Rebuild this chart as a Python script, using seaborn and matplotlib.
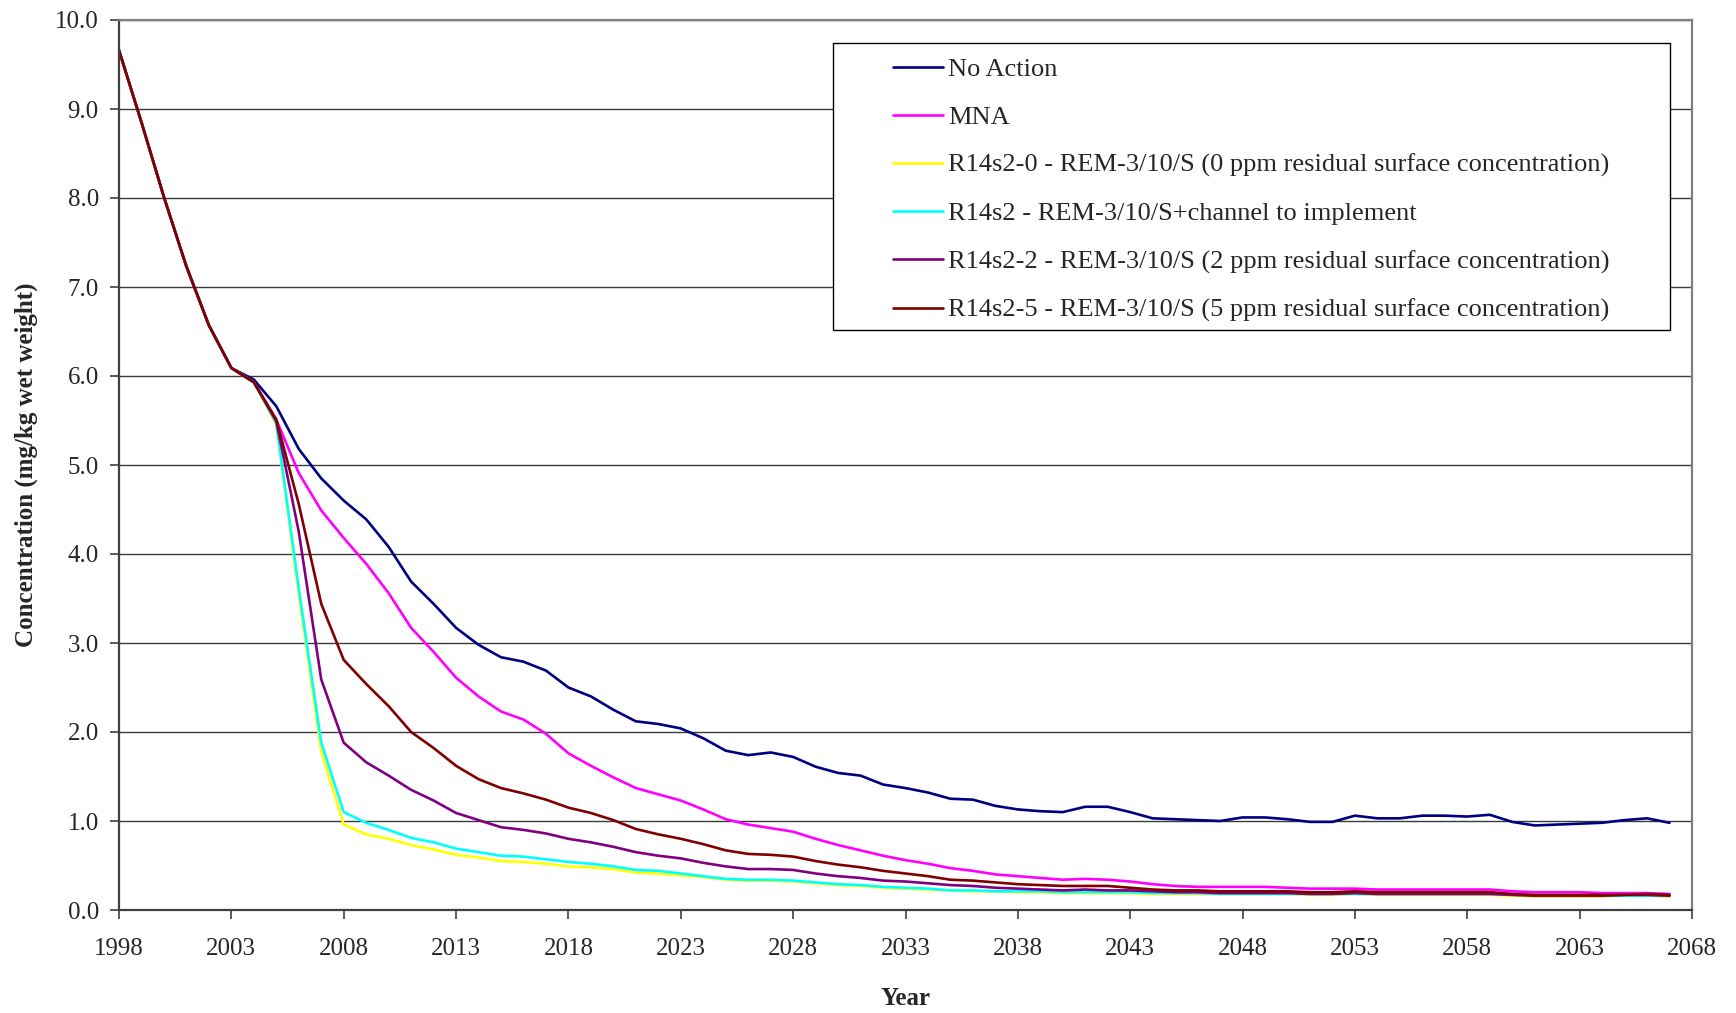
import numpy as np
import pandas as pd
import matplotlib
matplotlib.use("Agg")
import matplotlib.pyplot as plt
import seaborn as sns
from matplotlib.patches import Rectangle

# years 1998..2067, one value per year
years = list(range(1998, 2068))

# shared history before the scenarios split
start = [9.66, 8.85, 8.01, 7.23, 6.57, 6.09]

no_action = start + [
    5.96, 5.66, 5.18, 4.85,
    4.60, 4.39, 4.08, 3.69, 3.44, 3.17, 2.98, 2.84, 2.79, 2.69,
    2.50, 2.40, 2.25, 2.12, 2.09, 2.04, 1.93, 1.79, 1.74, 1.77,
    1.72, 1.61, 1.54, 1.51, 1.41, 1.37, 1.32, 1.25, 1.24, 1.17,
    1.13, 1.11, 1.10, 1.16, 1.16, 1.10, 1.03, 1.02, 1.01, 1.00,
    1.04, 1.04, 1.02, 0.99, 0.99, 1.06, 1.03, 1.03, 1.06, 1.06,
    1.05, 1.07, 0.99, 0.95, 0.96, 0.97, 0.98, 1.01, 1.03, 0.98]

mna = start + [
    5.93, 5.51, 4.91, 4.49,
    4.18, 3.89, 3.56, 3.17, 2.90, 2.61, 2.40, 2.23, 2.14, 1.98,
    1.76, 1.62, 1.49, 1.37, 1.30, 1.23, 1.13, 1.02, 0.96, 0.92,
    0.88, 0.80, 0.73, 0.67, 0.61, 0.56, 0.52, 0.47, 0.44, 0.40,
    0.38, 0.36, 0.34, 0.35, 0.34, 0.32, 0.29, 0.27, 0.26, 0.26,
    0.26, 0.26, 0.25, 0.24, 0.24, 0.24, 0.23, 0.23, 0.23, 0.23,
    0.23, 0.23, 0.21, 0.20, 0.20, 0.20, 0.19, 0.19, 0.19, 0.18]

r0 = start + [
    5.93, 5.45, 3.55, 1.78,
    0.96, 0.85, 0.80, 0.73, 0.68, 0.62, 0.59, 0.55, 0.54, 0.52,
    0.49, 0.48, 0.46, 0.42, 0.41, 0.39, 0.37, 0.34, 0.33, 0.33,
    0.32, 0.30, 0.28, 0.27, 0.25, 0.24, 0.23, 0.22, 0.21, 0.21,
    0.20, 0.20, 0.19, 0.19, 0.19, 0.19, 0.18, 0.18, 0.18, 0.18,
    0.18, 0.18, 0.18, 0.17, 0.17, 0.18, 0.17, 0.17, 0.17, 0.17,
    0.17, 0.17, 0.16, 0.15, 0.15, 0.15, 0.15, 0.16, 0.16, 0.15]

r_channel = start + [
    5.93, 5.47, 3.61, 1.88,
    1.10, 0.98, 0.90, 0.81, 0.76, 0.69, 0.65, 0.61, 0.60, 0.57,
    0.54, 0.52, 0.49, 0.45, 0.44, 0.41, 0.38, 0.35, 0.34, 0.34,
    0.33, 0.31, 0.29, 0.28, 0.26, 0.25, 0.24, 0.22, 0.22, 0.21,
    0.21, 0.21, 0.20, 0.20, 0.20, 0.20, 0.19, 0.19, 0.19, 0.18,
    0.18, 0.18, 0.18, 0.18, 0.18, 0.18, 0.18, 0.18, 0.18, 0.18,
    0.18, 0.18, 0.17, 0.16, 0.16, 0.16, 0.16, 0.16, 0.16, 0.16]

r2 = start + [
    5.93, 5.49, 4.25, 2.59,
    1.88, 1.66, 1.51, 1.35, 1.23, 1.09, 1.01, 0.93, 0.90, 0.86,
    0.80, 0.76, 0.71, 0.65, 0.61, 0.58, 0.53, 0.49, 0.46, 0.46,
    0.45, 0.41, 0.38, 0.36, 0.33, 0.32, 0.30, 0.28, 0.27, 0.25,
    0.24, 0.23, 0.22, 0.23, 0.22, 0.22, 0.21, 0.20, 0.20, 0.19,
    0.19, 0.19, 0.19, 0.18, 0.18, 0.19, 0.18, 0.18, 0.18, 0.18,
    0.18, 0.18, 0.17, 0.16, 0.16, 0.16, 0.16, 0.17, 0.17, 0.16]

r5 = start + [
    5.93, 5.51, 4.56, 3.44,
    2.81, 2.54, 2.29, 2.00, 1.82, 1.62, 1.47, 1.37, 1.31, 1.24,
    1.15, 1.09, 1.01, 0.91, 0.85, 0.80, 0.74, 0.67, 0.63, 0.62,
    0.60, 0.55, 0.51, 0.48, 0.44, 0.41, 0.38, 0.34, 0.33, 0.31,
    0.29, 0.28, 0.27, 0.27, 0.27, 0.25, 0.23, 0.22, 0.22, 0.21,
    0.21, 0.21, 0.21, 0.20, 0.20, 0.21, 0.20, 0.20, 0.20, 0.20,
    0.20, 0.20, 0.18, 0.17, 0.17, 0.17, 0.17, 0.17, 0.18, 0.17]

labels = [
    "No Action",
    "MNA",
    "R14s2-0 - REM-3/10/S (0 ppm residual surface concentration)",
    "R14s2 - REM-3/10/S+channel to implement",
    "R14s2-2 - REM-3/10/S (2 ppm residual surface concentration)",
    "R14s2-5 - REM-3/10/S (5 ppm residual surface concentration)",
]
colors = ["#000080", "#FF00FF", "#FFFF00", "#00FFFF", "#800080", "#800000"]
series = [no_action, mna, r0, r_channel, r2, r5]

df = pd.concat(
    [pd.DataFrame({"Year": years, "Value": vals, "Scenario": lab})
     for lab, vals in zip(labels, series)],
    ignore_index=True)

sns.set_theme(style="white")
plt.rcParams["font.family"] = ["Liberation Serif", "DejaVu Serif"]

fig = plt.figure(figsize=(17.36, 10.13), dpi=100)
ax = fig.add_axes([119 / 1736, 1 - 910 / 1013, 1573 / 1736, 890 / 1013])

sns.lineplot(data=df, x="Year", y="Value", hue="Scenario", hue_order=labels,
             palette=dict(zip(labels, colors)), linewidth=1.9, ax=ax,
             legend=False)

ax.set_xlim(1998, 2068)
ax.set_ylim(0, 10)
ax.set_xticks(range(1998, 2069, 5))
ax.set_yticks(np.arange(0, 10.1, 1.0))
ax.yaxis.set_major_formatter(matplotlib.ticker.FormatStrFormatter("%.1f"))
ax.yaxis.grid(True, color="#3a3a3a", linewidth=1.0)
ax.set_axisbelow(True)
ax.tick_params(axis="both", direction="out", length=6.5, width=1.2,
               color="#404040", labelsize=18, left=True, bottom=True)
ax.tick_params(axis="x", pad=14)
ax.tick_params(axis="y", pad=8)
for side in ["left", "bottom"]:
    ax.spines[side].set_color("#404040")
    ax.spines[side].set_linewidth(1.6)
for side in ["top", "right"]:
    ax.spines[side].set_color("#808080")
    ax.spines[side].set_linewidth(1.6)

ax.set_xlabel("Year", fontsize=18, fontweight="bold", labelpad=19)
ax.set_ylabel("Concentration (mg/kg wet weight)", fontsize=18,
              fontweight="bold", labelpad=12)

# legend inside a plain black box
ax.add_patch(Rectangle((0.454, 0.652), 0.532, 0.322, transform=ax.transAxes,
                       facecolor="white", edgecolor="black", linewidth=1.0,
                       zorder=5))
handles = [plt.Line2D([], [], color=c, linewidth=1.9) for c in colors]
leg = ax.legend(handles, labels, loc="upper left",
                bbox_to_anchor=(0.492, 0.958), frameon=False, fontsize=19,
                handlelength=1.9, handletextpad=0.2, labelspacing=0.93,
                borderpad=0, borderaxespad=0)
leg.set_zorder(6)

fig.savefig("out.png", dpi=100)
